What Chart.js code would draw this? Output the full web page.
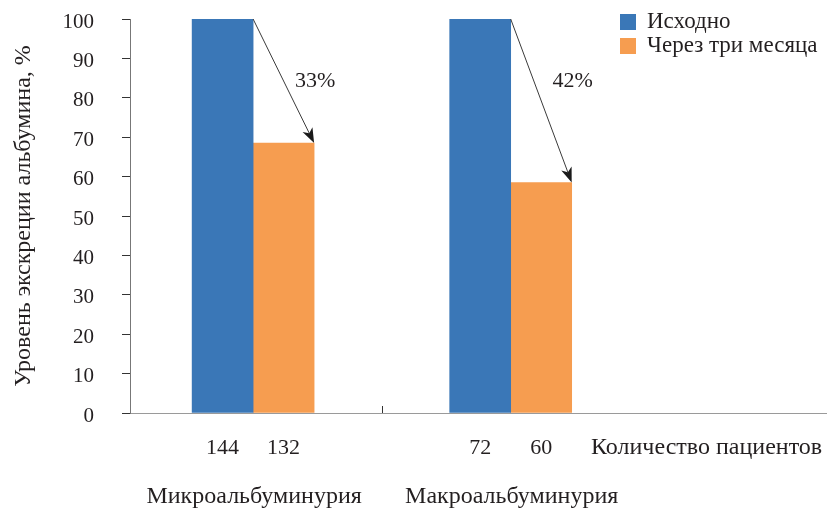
<!DOCTYPE html>
<html lang="ru">
<head>
<meta charset="utf-8">
<title>Уровень экскреции альбумина</title>
<script src="https://cdn.jsdelivr.net/npm/chart.js@4.4.1/dist/chart.umd.min.js"></script>
<style>
  html, body { margin: 0; padding: 0; background: #ffffff; }
  #wrap { width: 827px; height: 509px; position: relative; }
</style>
</head>
<body>
<div id="wrap"><canvas id="chart" width="827" height="509"></canvas></div>
<script>
// Groups of patients
const categories = ['Микроальбуминурия', 'Макроальбуминурия'];
// Albumin excretion, % of baseline
const baselineValues = [100, 100];
const afterThreeMonths = [68.5, 58.5];
// Reduction labels shown over the arrows
const reductionLabels = ['33%', '42%'];
// Number of patients under each bar
const patientsBaseline = [144, 72];
const patientsAfter = [132, 60];
const patientsCaption = 'Количество пациентов';
const seriesNames = ['Исходно', 'Через три месяца'];
const yTicks = [0, 10, 20, 30, 40, 50, 60, 70, 80, 90, 100];

const BLUE = '#3a77b7';
const ORANGE = '#f69d50';
const TEXT = '#231f20';
const FONT = '"Liberation Serif", "Times New Roman", serif';

Chart.defaults.font.family = FONT;
Chart.defaults.color = TEXT;

const toPoints = vals => vals.map((v, i) => ({ x: i + 0.5, y: v }));

function drawArrow(ctx, x1, y1, x2, y2) {
  const ang = Math.atan2(y2 - y1, x2 - x1);
  const len = 15, half = 5.5, notch = 11;
  ctx.save();
  ctx.strokeStyle = '#3a3a3a';
  ctx.lineWidth = 1;
  ctx.beginPath();
  ctx.moveTo(x1, y1);
  ctx.lineTo(x2 - Math.cos(ang) * notch, y2 - Math.sin(ang) * notch);
  ctx.stroke();
  ctx.translate(x2, y2);
  ctx.rotate(ang);
  ctx.fillStyle = '#1a1a1a';
  ctx.beginPath();
  ctx.moveTo(0, 0);
  ctx.lineTo(-len, -half);
  ctx.lineTo(-notch, 0);
  ctx.lineTo(-len, half);
  ctx.closePath();
  ctx.fill();
  ctx.restore();
}

const annotations = {
  id: 'annotations',
  afterDatasetsDraw(chart) {
    const { ctx, chartArea, scales } = chart;
    const metaA = chart.getDatasetMeta(0);
    const metaB = chart.getDatasetMeta(1);
    ctx.save();

    // inner tick between the two groups
    const xMid = scales.x.getPixelForValue(1);
    ctx.strokeStyle = '#333';
    ctx.lineWidth = 1;
    ctx.beginPath();
    ctx.moveTo(Math.round(xMid) + 0.5, chartArea.bottom - 7);
    ctx.lineTo(Math.round(xMid) + 0.5, chartArea.bottom);
    ctx.stroke();

    ctx.fillStyle = TEXT;
    ctx.textBaseline = 'alphabetic';

    categories.forEach((cat, i) => {
      const a = metaA.data[i], b = metaB.data[i];
      const aRight = a.x + a.width / 2;
      const bRight = b.x + b.width / 2;
      // arrow from the top of the baseline bar to the top of the later bar
      drawArrow(ctx, aRight, a.y, bRight, b.y);
      ctx.textAlign = 'center';
      ctx.font = '22px ' + FONT;
      ctx.fillText(reductionLabels[i], bRight + 1, chartArea.top + 68);

      // patient counts
      ctx.fillText(String(patientsBaseline[i]), a.x, chartArea.bottom + 41);
      ctx.fillText(String(patientsAfter[i]), b.x, chartArea.bottom + 41);

      // group name
      ctx.font = '24px ' + FONT;
      const groupCenter = (a.x - a.width / 2 + bRight) / 2;
      ctx.fillText(cat, groupCenter + 1, chartArea.bottom + 90);
    });

    ctx.textAlign = 'left';
    ctx.font = '24px ' + FONT;
    ctx.fillText(patientsCaption, 591, chartArea.bottom + 41);

    // legend
    ctx.font = '23px ' + FONT;
    const colors = [BLUE, ORANGE];
    seriesNames.forEach((name, i) => {
      const y = 14 + i * 24;
      ctx.fillStyle = colors[i];
      ctx.fillRect(620, y, 16, 16);
      ctx.fillStyle = TEXT;
      ctx.textAlign = 'left';
      ctx.fillText(name, 647, y + 14);
    });
    ctx.restore();
  }
};

new Chart(document.getElementById('chart'), {
  type: 'bar',
  data: {
    datasets: [
      { label: seriesNames[0], data: toPoints(baselineValues), backgroundColor: BLUE, barThickness: 61 },
      { label: seriesNames[1], data: toPoints(afterThreeMonths), backgroundColor: ORANGE, barThickness: 61 }
    ]
  },
  options: {
    responsive: false,
    animation: false,
    layout: { padding: { top: 19, right: 0, left: 0, bottom: 0 } },
    plugins: { legend: { display: false }, tooltip: { enabled: false } },
    scales: {
      x: {
        type: 'linear',
        min: 0.022,
        max: 2.728,
        offset: false,
        grid: { display: false },
        ticks: { display: false },
        border: { display: true, color: '#9a9a9a', width: 1 },
        afterFit(scale) { scale.height = 96; }
      },
      y: {
        min: 0,
        max: 100,
        afterBuildTicks(scale) { scale.ticks = yTicks.map(v => ({ value: v })); },
        ticks: { font: { size: 21 }, color: TEXT, padding: 28, labelOffset: 3 },
        grid: { drawOnChartArea: false, drawTicks: true, tickLength: 8, color: '#333' },
        border: { display: true, color: '#777', width: 1 },
        title: {
          display: true,
          text: 'Уровень экскреции альбумина, %',
          font: { size: 24 },
          color: TEXT,
          padding: { top: 9, bottom: 0 }
        },
        afterFit(scale) {
          scale.width = 130;
          scale.paddingTop = 0;
          scale.paddingBottom = 0;
        }
      }
    }
  },
  plugins: [annotations]
});
</script>
</body>
</html>
